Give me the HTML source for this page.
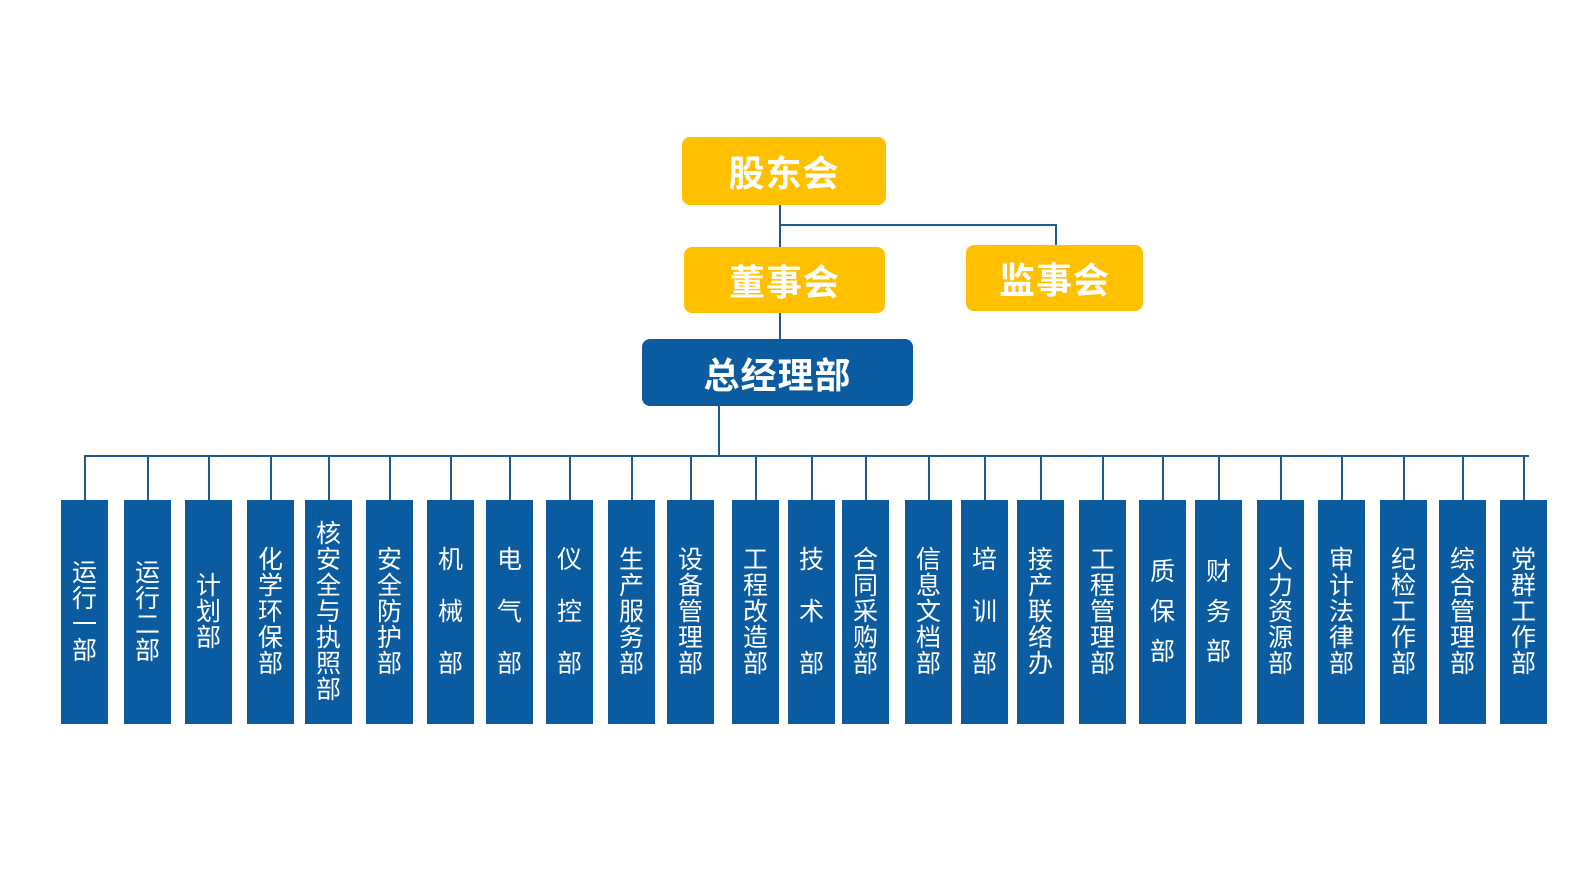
<!DOCTYPE html>
<html><head><meta charset="utf-8"><style>
body{margin:0;width:1589px;height:883px;background:#fff;position:relative;overflow:hidden;font-family:"Liberation Sans","Noto Sans CJK SC",sans-serif}
.b{position:absolute;color:#fff;display:flex;align-items:center;justify-content:center}
.y{background:#FFC000;border-radius:8px;font-size:36px;font-weight:bold;letter-spacing:1px}
.g{background:#0B5BA1;border-radius:8px;font-size:36px;font-weight:bold;letter-spacing:1px}
.d{background:#0B5BA1;top:500px;height:224px;width:47px;flex-direction:column;font-size:25px;line-height:26px}
.l{position:absolute;background:#1F5A8E}
</style></head><body>
<div class="l" style="left:779px;top:205px;width:2px;height:134px"></div>
<div class="l" style="left:779px;top:224px;width:278px;height:2px"></div>
<div class="l" style="left:1055px;top:224px;width:2px;height:22px"></div>
<div class="l" style="left:718px;top:405px;width:2px;height:52px"></div>
<div class="l" style="left:84px;top:455px;width:1445px;height:2px"></div>
<div class="b y" style="left:682px;top:137px;width:204px;height:68px">股东会</div>
<div class="b y" style="left:684px;top:247px;width:201px;height:66px">董事会</div>
<div class="b y" style="left:966px;top:245px;width:177px;height:66px">监事会</div>
<div class="b g" style="left:642px;top:339px;width:271px;height:67px">总经理部</div>
<div id="c"></div>
<script>
var d=[[61,"运行一部",26],[124,"运行二部",26],[185,"计划部",26],[247,"化学环保部",26],[305,"核安全与执照部",26],[366,"安全防护部",26],[427,"机械部",52],[486,"电气部",52],[546,"仪控部",52],[608,"生产服务部",26],[667,"设备管理部",26],[732,"工程改造部",26],[788,"技术部",52],[842,"合同采购部",26],[905,"信息文档部",26],[961,"培训部",52],[1017,"接产联络办",26],[1079,"工程管理部",26],[1139,"质保部",40],[1195,"财务部",40],[1257,"人力资源部",26],[1318,"审计法律部",26],[1380,"纪检工作部",26],[1439,"综合管理部",26],[1500,"党群工作部",26]];
var h="";
d.forEach(function(e){var x=e[0];h+='<div class="l" style="left:'+(x+23)+'px;top:456px;width:2px;height:45px"></div>';
h+='<div class="b d" style="left:'+x+'px">';e[1].split("").forEach(function(c){h+='<div style="height:'+e[2]+'px;line-height:'+e[2]+'px">'+c+'</div>'});h+='</div>';});
document.getElementById("c").innerHTML=h;
</script>
</body></html>
